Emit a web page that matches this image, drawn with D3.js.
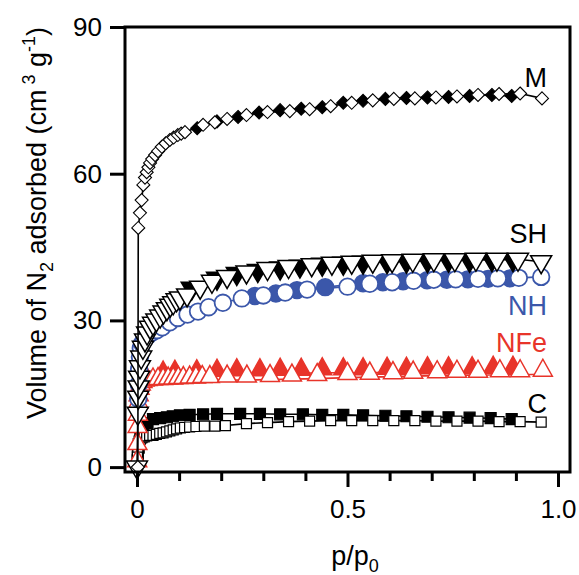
<!DOCTYPE html>
<html>
<head>
<meta charset="utf-8">
<script src="https://cdn.jsdelivr.net/npm/d3@7"></script>
<style>
  body { margin: 0; background: #fff; }
  svg { display: block; }
  text { font-family: "Liberation Sans", Arial, sans-serif; }
</style>
</head>
<body>
<svg id="chart" width="579" height="575"></svg>
<script>
// N2 isotherms, relative pressure p/p0 vs adsorbed volume (cm3 g-1)
// open markers = adsorption, filled markers = desorption

const mAdsP = [0.002, 0.003, 0.007, 0.011, 0.015, 0.019, 0.023, 0.027, 0.031, 0.036, 0.043, 0.05, 0.059, 0.068, 0.078, 0.087, 0.097, 0.105, 0.114, 0.157, 0.185, 0.214, 0.26, 0.31, 0.363, 0.41, 0.46, 0.51, 0.56, 0.61, 0.66, 0.71, 0.76, 0.81, 0.86, 0.91, 0.962];
const mAdsV = [0, 48.9, 52.0, 54.6, 57.7, 59.2, 60.3, 61.3, 62.2, 63.0, 63.8, 64.6, 65.5, 66.2, 66.9, 67.4, 67.9, 68.2, 68.5, 70.0, 70.5, 71.2, 72.0, 72.6, 72.8, 73.2, 73.8, 74.5, 75.0, 75.3, 75.4, 75.6, 75.8, 76.1, 76.3, 76.4, 75.4];
const mDesP = [0.89, 0.843, 0.79, 0.74, 0.69, 0.64, 0.59, 0.537, 0.49, 0.44, 0.39, 0.34, 0.29, 0.24, 0.19, 0.143];
const mDesV = [75.9, 76.1, 75.9, 75.7, 75.6, 75.5, 75.3, 74.9, 74.5, 73.6, 73.3, 73.0, 72.5, 71.6, 70.7, 69.3];

const shAdsP = [0.0, 0.002, 0.003, 0.004, 0.005, 0.007, 0.01, 0.014, 0.019, 0.024, 0.031, 0.038, 0.046, 0.055, 0.063, 0.071, 0.079, 0.086, 0.094, 0.102, 0.119, 0.15, 0.178, 0.214, 0.26, 0.31, 0.36, 0.415, 0.463, 0.51, 0.56, 0.606, 0.655, 0.705, 0.755, 0.805, 0.855, 0.905, 0.96];
const shAdsV = [0, 11, 14.3, 16.4, 18.4, 20.5, 22.5, 24.5, 26.0, 27.4, 28.6, 29.4, 30.1, 30.9, 31.7, 32.4, 33.1, 33.6, 34.2, 34.6, 35.2, 36.8, 38.0, 39.0, 39.9, 40.6, 41.0, 41.4, 41.7, 41.9, 42.1, 42.2, 42.3, 42.4, 42.4, 42.5, 42.5, 42.5, 42.0];
const shDesP = [0.893, 0.843, 0.79, 0.74, 0.69, 0.64, 0.594, 0.537, 0.49, 0.44, 0.387, 0.34, 0.287, 0.237, 0.19, 0.13];
const shDesV = [42.4, 42.4, 42.3, 42.3, 42.2, 42.1, 42.0, 41.9, 41.7, 41.5, 41.1, 40.7, 40.2, 39.6, 38.6, 36.6];

const nhAdsP = [0.003, 0.004, 0.005, 0.007, 0.009, 0.012, 0.017, 0.025, 0.035, 0.047, 0.06, 0.078, 0.097, 0.12, 0.145, 0.17, 0.204, 0.249, 0.3, 0.352, 0.404, 0.5, 0.553, 0.606, 0.657, 0.705, 0.757, 0.81, 0.857, 0.907, 0.96];
const nhAdsV = [14, 17, 20, 22.5, 24.3, 25.3, 26.0, 26.8, 27.5, 28.0, 28.6, 29.6, 30.5, 31.2, 31.8, 32.7, 33.6, 34.5, 35.1, 35.7, 36.3, 36.9, 37.5, 37.8, 38.1, 38.3, 38.4, 38.5, 38.6, 38.7, 38.9];
const nhDesP = [0.886, 0.834, 0.786, 0.736, 0.689, 0.632, 0.584, 0.537, 0.447, 0.38, 0.33, 0.28];
const nhDesV = [38.6, 38.5, 38.4, 38.3, 38.2, 38.0, 37.8, 37.6, 36.8, 36.2, 35.5, 35.0];

const nfAdsP = [0.0005, 0.001, 0.0015, 0.002, 0.003, 0.004, 0.006, 0.009, 0.013, 0.018, 0.025, 0.038, 0.05, 0.062, 0.074, 0.086, 0.098, 0.11, 0.125, 0.14, 0.155, 0.173, 0.214, 0.261, 0.316, 0.368, 0.428, 0.5, 0.553, 0.608, 0.656, 0.713, 0.76, 0.81, 0.862, 0.91, 0.964];
const nfAdsV = [0.5, 4, 7.5, 10, 12.5, 14, 15.3, 16.2, 16.7, 17.0, 17.1, 17.2, 17.3, 17.3, 17.4, 17.4, 17.5, 17.5, 17.6, 17.6, 17.7, 17.7, 17.8, 17.8, 17.9, 18.0, 18.1, 18.3, 18.4, 18.5, 18.6, 18.7, 18.8, 18.8, 18.9, 18.9, 19.0];
const nfDesP = [0.893, 0.846, 0.796, 0.74, 0.69, 0.64, 0.594, 0.537, 0.49, 0.44, 0.39, 0.34, 0.292, 0.237, 0.19, 0.142, 0.09, 0.062];
const nfDesV = [19.6, 19.6, 19.5, 19.5, 19.5, 19.4, 19.4, 19.3, 19.3, 19.3, 19.2, 19.2, 19.1, 19.1, 19.0, 18.9, 18.8, 18.6];

const cAdsP = [0.0005, 0.001, 0.002, 0.003, 0.005, 0.008, 0.012, 0.017, 0.023, 0.03, 0.038, 0.046, 0.054, 0.062, 0.07, 0.078, 0.086, 0.094, 0.103, 0.113, 0.125, 0.14, 0.16, 0.185, 0.21, 0.26, 0.31, 0.36, 0.41, 0.46, 0.51, 0.56, 0.61, 0.66, 0.71, 0.76, 0.81, 0.86, 0.91, 0.96];
const cAdsV = [1.5, 2.9, 4.1, 4.8, 5.3, 5.7, 6.0, 6.2, 6.4, 6.5, 6.5, 6.7, 6.9, 7.0, 7.2, 7.4, 7.6, 7.8, 8.0, 8.1, 8.2, 8.3, 8.4, 8.4, 8.5, 8.9, 9.1, 9.3, 9.4, 9.5, 9.5, 9.5, 9.5, 9.5, 9.4, 9.4, 9.4, 9.3, 9.3, 9.2];
const cDesP = [0.89, 0.84, 0.79, 0.74, 0.69, 0.64, 0.59, 0.537, 0.49, 0.44, 0.394, 0.34, 0.292, 0.245, 0.19, 0.157, 0.125, 0.102, 0.085, 0.071, 0.055, 0.038, 0.025, 0.015, 0.008, 0.004, 0.002];
const cDesV = [9.8, 10.0, 10.1, 10.2, 10.3, 10.4, 10.5, 10.6, 10.7, 10.7, 10.8, 10.8, 10.9, 10.9, 10.9, 10.8, 10.7, 10.6, 10.4, 10.2, 10.0, 9.8, 9.0, 8.0, 6.0, 4.0, 2.0];

const xMajorTicks = [0, 0.5, 1.0];
const xMinorTicks = [0.1, 0.2, 0.3, 0.4, 0.6, 0.7, 0.8, 0.9];
const xTickLabels = ["0", "0.5", "1.0"];
const yTicks = [0, 30, 60, 90];

const BLUE = "#3b57aa";
const RED = "#e8342a";

const svg = d3.select("#chart");
const frame = { left: 125, right: 570, top: 27, bottom: 472 };

const x = d3.scaleLinear().domain([-0.0285, 1.0285]).range([frame.left, frame.right]);
const y = d3.scaleLinear().domain([-1, 90]).range([frame.bottom, frame.top]);

// marker outlines, centred on the data point
const shapes = {
  diamond: "M0,-6.5L6.5,0L0,6.5L-6.5,0Z",
  triDown: "M-10.5,-6L10.5,-6L0,12Z",
  triUp: "M-9.5,2L9.5,2L0,-15Z",
  square: "M-5,-5H5V5H-5Z",
  squareBig: "M-5.5,-5.5H5.5V5.5H-5.5Z"
};

const line = d3.line().x(d => x(d[0])).y(d => y(d[1]));
const plot = svg.append("g");

function drawLine(P, V, color) {
  plot.append("path")
    .attr("d", line(d3.zip(P, V)))
    .attr("fill", "none")
    .attr("stroke", color)
    .attr("stroke-width", 1.6);
}

function drawMarkers(P, V, color, shape, filled, sw) {
  const pts = d3.zip(P, V);
  if (shape === "circle") {
    plot.append("g").selectAll("circle").data(pts).join("circle")
      .attr("cx", d => x(d[0])).attr("cy", d => y(d[1])).attr("r", 8.3)
      .attr("fill", filled ? color : "#fff")
      .attr("stroke", color).attr("stroke-width", sw);
  } else {
    plot.append("g").selectAll("path").data(pts).join("path")
      .attr("transform", d => `translate(${x(d[0])},${y(d[1])})`)
      .attr("d", shapes[shape])
      .attr("fill", filled ? color : "#fff")
      .attr("stroke", color).attr("stroke-width", sw)
      .attr("stroke-linejoin", "miter");
  }
}

function drawSample(s) {
  drawLine(s.desP, s.desV, s.color);
  drawLine(s.adsP, s.adsV, s.color);
  drawMarkers(s.desP, s.desV, s.color, s.desShape || s.shape, true, s.sw);
  drawMarkers(s.adsP, s.adsV, s.color, s.shape, false, s.sw);
}

drawSample({ adsP: cAdsP, adsV: cAdsV, desP: cDesP, desV: cDesV, color: "#000", shape: "square", desShape: "squareBig", sw: 1.2 });
drawSample({ adsP: nfAdsP, adsV: nfAdsV, desP: nfDesP, desV: nfDesV, color: RED, shape: "triUp", sw: 1.5 });
drawSample({ adsP: nhAdsP, adsV: nhAdsV, desP: nhDesP, desV: nhDesV, color: BLUE, shape: "circle", sw: 1.8 });
drawSample({ adsP: shAdsP, adsV: shAdsV, desP: shDesP, desV: shDesV, color: "#000", shape: "triDown", sw: 1.5 });
drawSample({ adsP: mAdsP, adsV: mAdsV, desP: mDesP, desV: mDesV, color: "#000", shape: "diamond", sw: 1.1 });

// frame
svg.append("rect")
  .attr("x", frame.left).attr("y", frame.top)
  .attr("width", frame.right - frame.left).attr("height", frame.bottom - frame.top)
  .attr("fill", "none").attr("stroke", "#000").attr("stroke-width", 3);

// axes
const xAxis = svg.append("g").attr("transform", `translate(0,${frame.bottom})`)
  .call(d3.axisBottom(x).tickValues(xMajorTicks).tickSize(15).tickPadding(13)
    .tickFormat((d, i) => xTickLabels[i]));
const xMinor = svg.append("g").attr("transform", `translate(0,${frame.bottom})`)
  .call(d3.axisBottom(x).tickValues(xMinorTicks).tickSize(9).tickFormat(""));
const yAxis = svg.append("g").attr("transform", `translate(${frame.left},0)`)
  .call(d3.axisLeft(y).tickValues(yTicks).tickSize(15).tickPadding(8));

[xAxis, xMinor, yAxis].forEach(a => {
  a.select(".domain").remove();
  a.selectAll(".tick line").attr("stroke", "#000").attr("stroke-width", 3);
  a.selectAll(".tick text").attr("fill", "#000")
    .style("font-family", '"Liberation Sans", Arial, sans-serif').style("font-size", "26px");
});

// series labels (value = baseline position in data units)
const labels = [
  { t: "M", v: 77.7, c: "#000" },
  { t: "SH", v: 45.8, c: "#000" },
  { t: "NH", v: 31.1, c: BLUE },
  { t: "NFe", v: 23.5, c: RED },
  { t: "C", v: 11.1, c: "#000" }
];
svg.append("g").selectAll("text").data(labels).join("text")
  .attr("x", 547).attr("y", d => y(d.v))
  .attr("text-anchor", "end").attr("font-size", 27)
  .attr("fill", d => d.c).text(d => d.t);

// axis titles
const yt = svg.append("text")
  .attr("transform", "translate(46,223) rotate(-90)")
  .attr("text-anchor", "middle").attr("font-size", 27).attr("fill", "#000");
yt.append("tspan").text("Volume of N");
yt.append("tspan").attr("dy", 7).attr("font-size", 18).text("2");
yt.append("tspan").attr("dy", -7).text(" adsorbed (cm");
yt.append("tspan").attr("dy", -11).attr("font-size", 18).text(" 3");
yt.append("tspan").attr("dy", 11).text(" g");
yt.append("tspan").attr("dy", -11).attr("font-size", 18).text("-1");
yt.append("tspan").attr("dy", 11).text(")");

const xt = svg.append("text")
  .attr("x", 355).attr("y", 565)
  .attr("text-anchor", "middle").attr("font-size", 27).attr("fill", "#000");
xt.append("tspan").text("p/p");
xt.append("tspan").attr("dy", 7).attr("font-size", 18).text("0");
</script>
</body>
</html>
